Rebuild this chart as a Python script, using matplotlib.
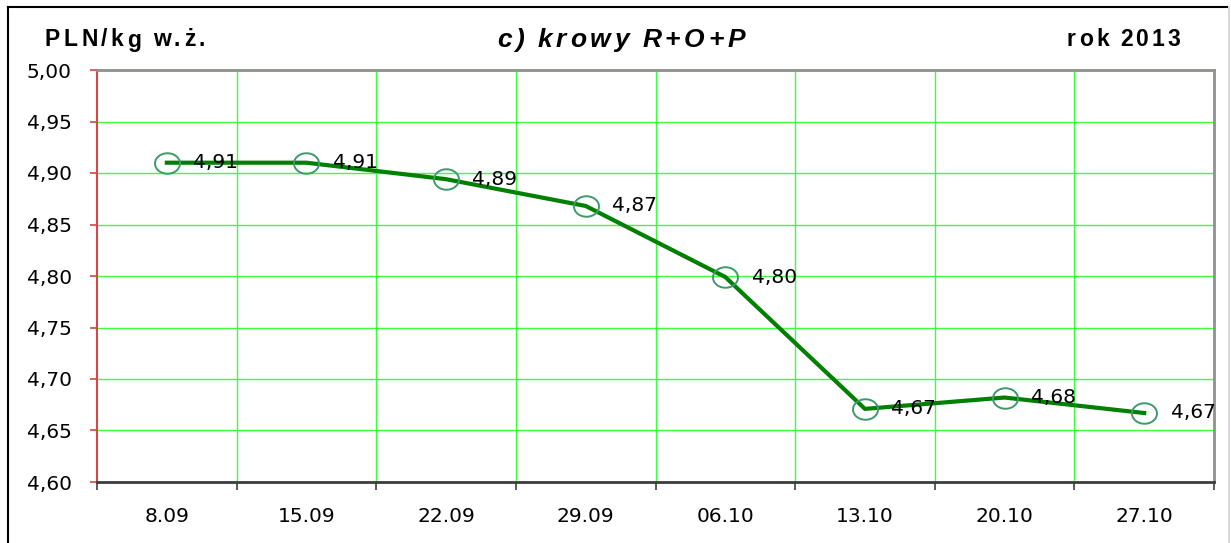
import matplotlib
matplotlib.use("Agg")
import matplotlib.pyplot as plt
from matplotlib.lines import Line2D
from matplotlib.path import Path
import numpy as np

# data
weeks = ["8.09", "15.09", "22.09", "29.09", "06.10", "13.10", "20.10", "27.10"]
prices = [4.910, 4.910, 4.894, 4.868, 4.799, 4.671, 4.682, 4.667]
yticks = [4.60, 4.65, 4.70, 4.75, 4.80, 4.85, 4.90, 4.95, 5.00]

unit_label = "PLN/kg w.ż."
title = "c) krowy R+O+P"
year_label = "rok 2013"

# the source is a horizontally stretched Arial; DejaVu Sans is the wider match for numbers
plt.rcParams['font.family'] = ['DejaVu Sans']
HEAD_FONT = ['Liberation Sans', 'DejaVu Sans']

W, H, DPI = 1231, 543, 100
fig = plt.figure(figsize=(W / DPI, H / DPI), dpi=DPI)
ax = fig.add_axes([97 / W, 1 - 482 / H, (1214 - 97) / W, (482 - 70) / H])

x = np.arange(len(weeks))

# slightly flattened circle marker, like the Excel one
t = np.linspace(0, 2 * np.pi, 60)
ellipse = Path(np.column_stack([np.cos(t), 0.82 * np.sin(t)]))

ax.plot(x, prices, color="#008000", lw=3.0, zorder=3,
        marker=ellipse, markersize=18, markerfacecolor="none",
        markeredgecolor="#3c9a6c", markeredgewidth=1.4)

for xi, v in zip(x, prices):
    ax.annotate(f"{v:.2f}".replace(".", ","), (xi, v), xytext=(19, 0),
                textcoords="offset points", va="center", ha="left",
                fontsize=14.5, color="black", zorder=4)

ax.set_xlim(-0.5, len(weeks) - 0.5)
ax.set_ylim(4.60, 5.00)

ax.set_yticks(yticks)
ax.set_yticklabels([f"{v:.2f}".replace(".", ",") for v in yticks], fontsize=14.5)
ax.tick_params(axis="y", direction="out", length=5, width=1.2, color="#d04848", pad=13)

ax.set_xticks(x)
ax.set_xticklabels(weeks, fontsize=14.5)
ax.set_xticks(np.arange(len(weeks) + 1) - 0.5, minor=True)
ax.tick_params(axis="x", which="major", length=0, pad=18)
ax.tick_params(axis="x", which="minor", direction="out", length=6, width=1.2, color="#404040")

# grid: horizontal at value ticks, vertical at category boundaries
for yv in yticks[1:-1]:
    ax.axhline(yv, color="#3cff3c", lw=1.0, zorder=1)
for xb in np.arange(1, len(weeks)) - 0.5:
    ax.axvline(xb, color="#3cff3c", lw=1.0, zorder=1)

ax.spines["left"].set_color("#d04848")
ax.spines["left"].set_linewidth(1.5)
ax.spines["bottom"].set_color("#3c3c3c")
ax.spines["bottom"].set_linewidth(2)
for s in ("top", "right"):
    ax.spines[s].set_color("#8c928c")
    ax.spines[s].set_linewidth(2)

# figure frame (top and left black, right pale)
fig.add_artist(Line2D([8 / W, 1228 / W], [1 - 7 / H, 1 - 7 / H], color="black", lw=1.5))
fig.add_artist(Line2D([8 / W, 8 / W], [0, 1 - 7 / H], color="black", lw=1.5))
fig.add_artist(Line2D([1229 / W, 1229 / W], [0, 1 - 7 / H], color="#d8d8d8", lw=1.5))

renderer = fig.canvas.get_renderer()


def spaced_text(x0, x1, y0, s, **kw):
    # letter-spaced header text filling x0..x1 (pixels), like the Excel original
    words = s.split(" ")
    chars = []
    for wi, w in enumerate(words):
        for ch in w:
            txt = fig.text(0, 1 - y0 / H, ch, va="center", ha="left", family=HEAD_FONT, **kw)
            chars.append((txt, txt.get_window_extent(renderer).width))
        if wi < len(words) - 1:
            chars.append((None, kw.get("fontsize", 12) * 0.22 * DPI / 72))
    natural = sum(wd for _, wd in chars)
    gap = (x1 - x0 - natural) / (len(chars) - 1)
    xp = x0
    for txt, wd in chars:
        if txt is not None:
            txt.set_x(xp / W)
        xp += wd + gap


spaced_text(45, 205, 40, unit_label, fontsize=16.5, fontweight="bold")
spaced_text(497, 745, 40, title, fontsize=19, fontweight="bold", fontstyle="italic")
spaced_text(1067, 1180, 40, year_label, fontsize=16.5, fontweight="bold")

fig.savefig("out.png", dpi=DPI)
